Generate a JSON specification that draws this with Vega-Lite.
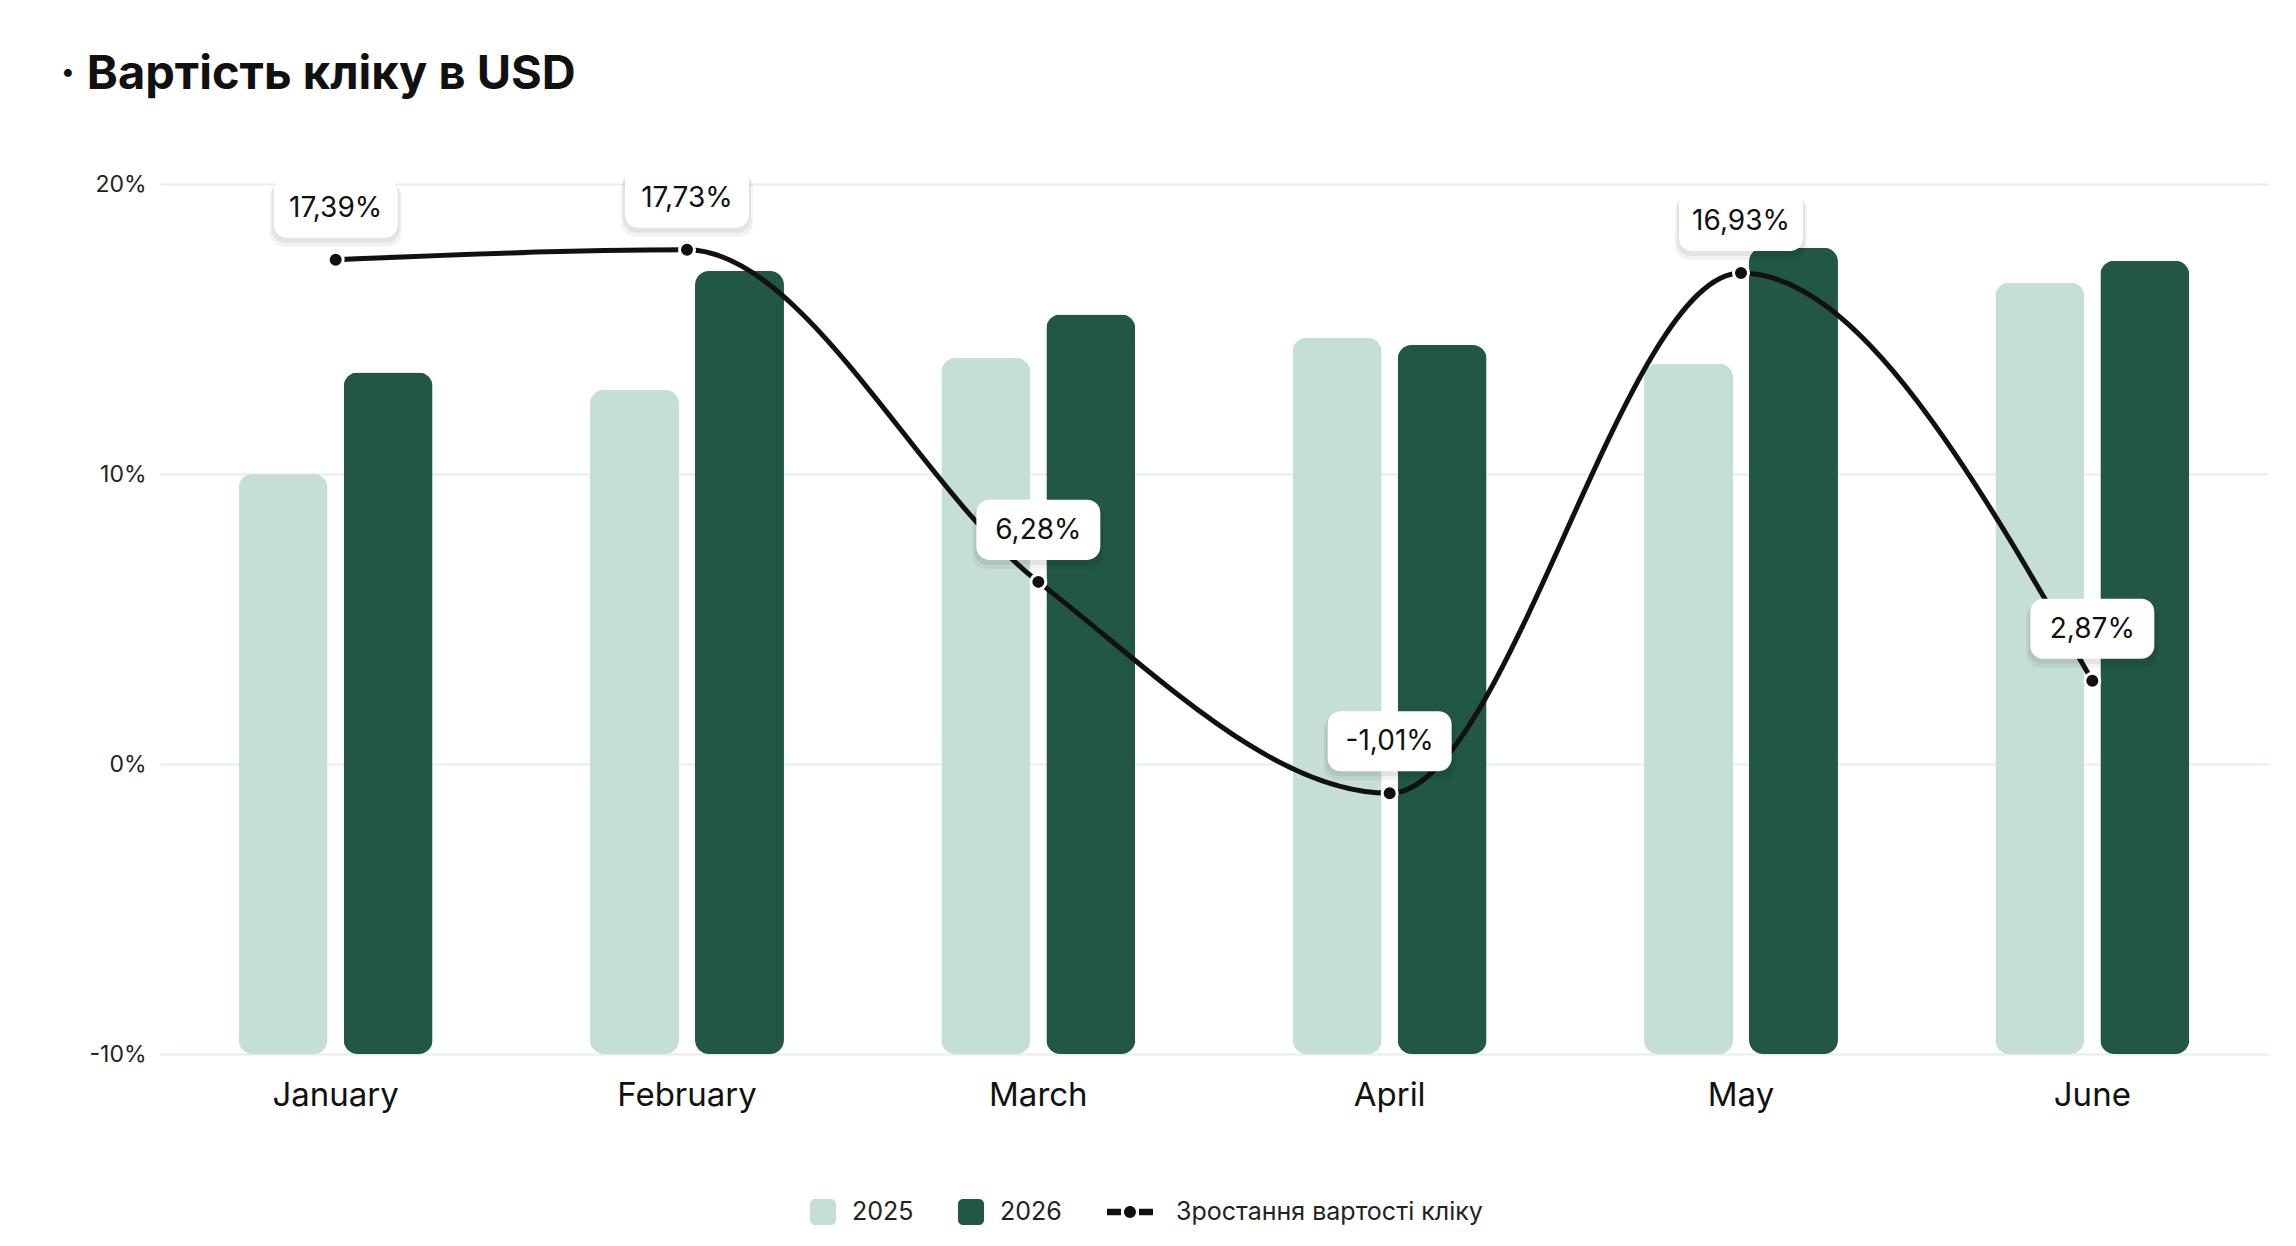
{
  "$schema": "https://vega.github.io/schema/vega-lite/v6.json",
  "width": 2108,
  "height": 870,
  "autosize": {"type": "none"},
  "padding": {"left": 160, "top": 184, "right": 28, "bottom": 192},
  "background": "white",
  "title": {
    "text": "·  Вартість кліку в USD",
    "anchor": "start",
    "frame": "group",
    "fontSize": 47,
    "fontWeight": 700,
    "font": "Inter",
    "color": "#111111",
    "dx": -100,
    "offset": 69
  },
  "datasets": {
    "bars": [
      {"month": "January", "year": "2025", "cpc": 0.2},
      {"month": "January", "year": "2026", "cpc": 0.235},
      {"month": "February", "year": "2025", "cpc": 0.229},
      {"month": "February", "year": "2026", "cpc": 0.27},
      {"month": "March", "year": "2025", "cpc": 0.24},
      {"month": "March", "year": "2026", "cpc": 0.255},
      {"month": "April", "year": "2025", "cpc": 0.247},
      {"month": "April", "year": "2026", "cpc": 0.2445},
      {"month": "May", "year": "2025", "cpc": 0.238},
      {"month": "May", "year": "2026", "cpc": 0.278},
      {"month": "June", "year": "2025", "cpc": 0.266},
      {"month": "June", "year": "2026", "cpc": 0.2735}
    ],
    "growth": [
      {"month": "January", "growth": 0.1739, "series": "Зростання вартості кліку"},
      {"month": "February", "growth": 0.1773, "series": "Зростання вартості кліку"},
      {"month": "March", "growth": 0.0628, "series": "Зростання вартості кліку"},
      {"month": "April", "growth": -0.0101, "series": "Зростання вартості кліку"},
      {"month": "May", "growth": 0.1693, "series": "Зростання вартості кліку"},
      {"month": "June", "growth": 0.0287, "series": "Зростання вартості кліку"}
    ]
  },
  "encoding": {
    "x": {
      "field": "month",
      "type": "nominal",
      "sort": ["January", "February", "March", "April", "May", "June"],
      "scale": {"paddingInner": 0.448, "paddingOuter": 0.224},
      "axis": {
        "title": null,
        "labelAngle": 0,
        "labelFontSize": 33,
        "labelColor": "#111111",
        "labelPadding": 25,
        "domain": false,
        "ticks": false,
        "grid": false
      }
    }
  },
  "layer": [
    {
      "data": {"name": "bars"},
      "mark": {"type": "bar", "cornerRadius": 14},
      "encoding": {
        "xOffset": {
          "field": "year",
          "type": "nominal",
          "scale": {"paddingInner": 0.1525, "paddingOuter": 0}
        },
        "y": {
          "field": "cpc",
          "type": "quantitative",
          "scale": {"domain": [0, 0.3], "nice": false},
          "axis": null
        },
        "color": {
          "field": "year",
          "type": "nominal",
          "scale": {
            "domain": ["2025", "2026", "Зростання вартості кліку"],
            "range": ["#C5DFD6", "#215744", "#111111"]
          },
          "legend": {
            "title": null,
            "orient": "none",
            "direction": "horizontal",
            "legendX": 650,
            "legendY": 1015,
            "symbolSize": 676,
            "labelOffset": 16,
            "labelFontSize": 25,
            "labelLimit": 500,
            "labelColor": "#222222",
            "columnPadding": 44,
            "encode": {
              "symbols": {
                "update": {
                  "shape": {"signal": "datum.value === 'Зростання вартості кліку' ? 'M-3.077,-0.25 L-2,-0.25 L-2,0.25 L-3.077,0.25 Z M-0.615,-0.25 L0.462,-0.25 L0.462,0.25 L-0.615,0.25 Z M-1.768,0 A0.46,0.46 0 1 1 -0.848,0 A0.46,0.46 0 1 1 -1.768,0 Z' : 'M-1,-0.615 A0.385,0.385 0 0 1 -0.615,-1 L0.615,-1 A0.385,0.385 0 0 1 1,-0.615 L1,0.615 A0.385,0.385 0 0 1 0.615,1 L-0.615,1 A0.385,0.385 0 0 1 -1,0.615 Z'"},
                  "fill": {"scale": "color", "field": "value"},
                  "stroke": {"value": "transparent"},
                  "strokeWidth": {"value": 0},
                  "opacity": {"value": 1}
                }
              }
            }
          }
        }
      }
    },
    {
      "data": {"name": "growth"},
      "encoding": {
        "y": {
          "field": "growth",
          "type": "quantitative",
          "scale": {"domain": [-0.1, 0.2], "nice": false},
          "axis": {
            "title": null,
            "values": [-0.1, 0, 0.1, 0.2],
            "format": ".0%",
            "labelFontSize": 23,
            "labelColor": "#222222",
            "labelPadding": 14,
            "domain": false,
            "ticks": false,
            "grid": true,
            "gridColor": "#E4EFE7",
            "gridWidth": 2
          }
        }
      },
      "layer": [
        {
          "mark": {"type": "line", "interpolate": "monotone", "strokeWidth": 5},
          "encoding": {
            "color": {"field": "series", "type": "nominal"}
          }
        },
        {
          "mark": {"type": "circle", "size": 225, "fill": "#111111", "opacity": 1, "stroke": "white", "strokeWidth": 3}
        },
        {
          "mark": {
            "type": "point",
            "shape": "M-1,-0.274 A0.21,0.21 0 0 1 -0.79,-0.484 L0.79,-0.484 A0.21,0.21 0 0 1 1,-0.274 L1,0.274 A0.21,0.21 0 0 1 0.79,0.484 L-0.79,0.484 A0.21,0.21 0 0 1 -1,0.274 Z",
            "size": 17424,
            "filled": true,
            "fill": "#000000",
            "opacity": 0.05,
            "strokeWidth": 0,
            "yOffset": -45
          }
        },
        {
          "mark": {
            "type": "point",
            "shape": "M-1,-0.274 A0.21,0.21 0 0 1 -0.79,-0.484 L0.79,-0.484 A0.21,0.21 0 0 1 1,-0.274 L1,0.274 A0.21,0.21 0 0 1 0.79,0.484 L-0.79,0.484 A0.21,0.21 0 0 1 -1,0.274 Z",
            "size": 16384,
            "filled": true,
            "fill": "#000000",
            "opacity": 0.06,
            "strokeWidth": 0,
            "yOffset": -48
          }
        },
        {
          "mark": {
            "type": "point",
            "shape": "M-1,-0.274 A0.21,0.21 0 0 1 -0.79,-0.484 L0.79,-0.484 A0.21,0.21 0 0 1 1,-0.274 L1,0.274 A0.21,0.21 0 0 1 0.79,0.484 L-0.79,0.484 A0.21,0.21 0 0 1 -1,0.274 Z",
            "size": 15376,
            "filled": true,
            "fill": "white",
            "opacity": 1,
            "strokeWidth": 0,
            "yOffset": -52
          }
        },
        {
          "mark": {
            "type": "text",
            "fontSize": 28,
            "color": "#111111",
            "baseline": "middle",
            "yOffset": -51
          },
          "encoding": {
            "text": {"field": "growth", "type": "quantitative", "format": ".2%"}
          }
        }
      ]
    }
  ],
  "resolve": {"scale": {"y": "independent"}},
  "config": {
    "font": "Inter",
    "view": {"stroke": null},
    "locale": {
      "number": {
        "decimal": ",",
        "thousands": " ",
        "grouping": [3],
        "currency": ["", " $"],
        "minus": "-",
        "percent": "%"
      }
    }
  }
}
